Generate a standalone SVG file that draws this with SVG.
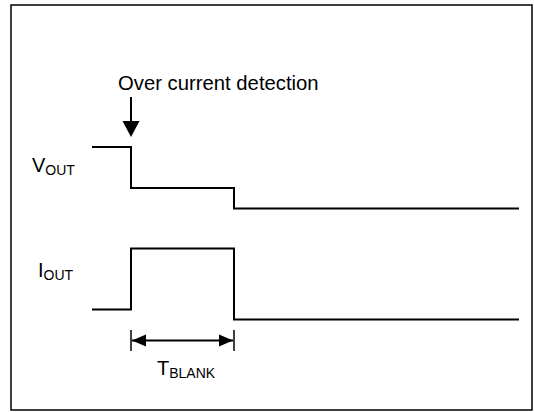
<svg xmlns="http://www.w3.org/2000/svg" width="534" height="412" viewBox="0 0 534 412">
<style>
.w{fill:none;stroke:#000;stroke-width:2}
.t{font-family:"Liberation Sans",Arial,sans-serif;fill:#000}
</style>
<rect x="11" y="5" width="521" height="405" fill="#fff" stroke="#000" stroke-width="1.5"/>
<g id="label-detection">
<text class="t" x="118" y="90" font-size="20.3">Over current detection</text>
</g>
<g id="vout-label"><text class="t" x="32" y="171.5" font-size="20">V<tspan font-size="14" dy="3">OUT</tspan></text></g>
<g id="iout-label"><text class="t" x="38" y="276.5" font-size="20">I<tspan font-size="14" dy="3">OUT</tspan></text></g>
<g id="tblank-label"><text class="t" x="157" y="375" font-size="20">T<tspan font-size="14" dy="3">BLANK</tspan></text></g>
<g id="vout-wave"><polyline class="w" points="92,147 131,147 131,188 234,188 234,208.5 519,208.5"/></g>
<g id="iout-wave"><polyline class="w" points="92,309.5 131,309.5 131,248.5 234,248.5 234,319.5 519,319.5"/></g>
<g id="connectors">
<line x1="131" y1="97" x2="131" y2="122" stroke="#000" stroke-width="2"/>
<path d="M122.5,121 L139.5,121 L131,137 z" fill="#000"/>
<line x1="131" y1="330" x2="131" y2="351" stroke="#000" stroke-width="1.5"/>
<line x1="234" y1="330" x2="234" y2="351" stroke="#000" stroke-width="1.5"/>
<line x1="132" y1="340.5" x2="233" y2="340.5" stroke="#000" stroke-width="2"/>
<path d="M132,340.5 L146,334.5 L146,346.5 z" fill="#000"/>
<path d="M233,340.5 L219,334.5 L219,346.5 z" fill="#000"/>
</g>
</svg>
